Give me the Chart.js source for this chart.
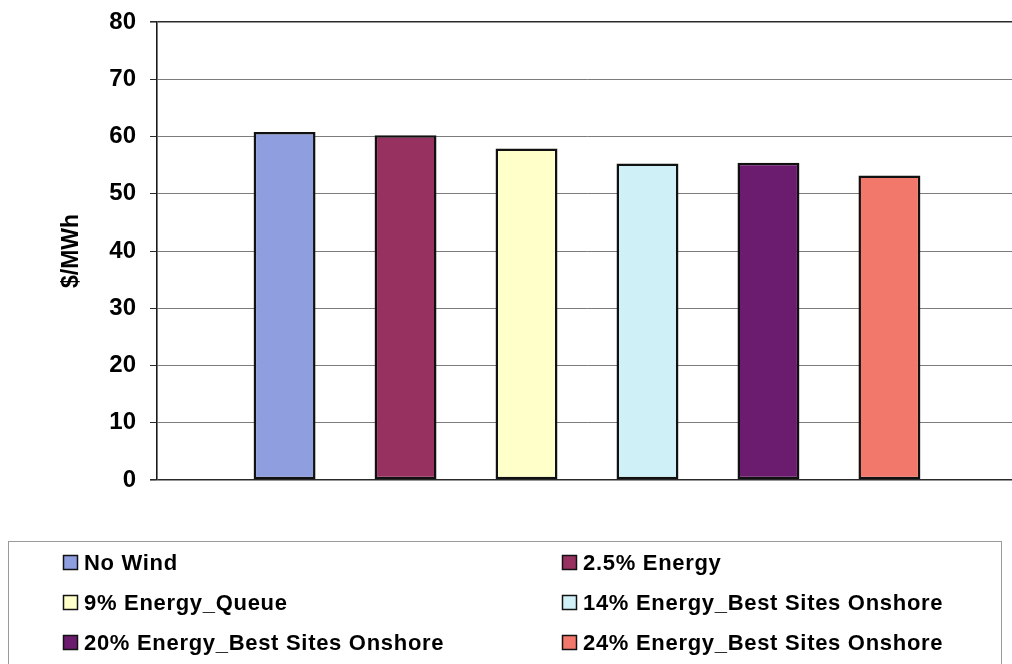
<!DOCTYPE html>
<html>
<head>
<meta charset="utf-8">
<script src="https://cdn.jsdelivr.net/npm/chart.js@4/dist/chart.umd.min.js"></script>
<style>
  html, body { margin: 0; padding: 0; background: #fff; overflow: hidden; }
  #wrap { width: 1012px; height: 664px; overflow: hidden; }
  canvas { display: block; }
</style>
</head>
<body>
<div id="wrap"><canvas id="chart" width="1020" height="664"></canvas></div>
<script>
// Scenario names, average price per scenario ($/MWh) and fill colours
const categories = [''];
const seriesNames = [
  'No Wind',
  '2.5% Energy',
  '9% Energy_Queue',
  '14% Energy_Best Sites Onshore',
  '20% Energy_Best Sites Onshore',
  '24% Energy_Best Sites Onshore'
];
const seriesValues = [60.8, 60.2, 57.9, 55.3, 55.4, 53.2];
const seriesColors = ['#8E9EDF', '#973260', '#FFFFCA', '#CFF0F6', '#6C1C6E', '#F3786C'];
const yTicks = [0, 10, 20, 30, 40, 50, 60, 70, 80];

const FONT = "'Liberation Sans', Arial, sans-serif";

const datasets = seriesNames.map((name, i) => ({
  label: name,
  data: [seriesValues[i]],
  backgroundColor: seriesColors[i],
  borderColor: '#111',
  borderWidth: 2.5,
  borderSkipped: false,
  categoryPercentage: 0.844,
  barPercentage: 0.512
}));

// Boxed two-column legend under the plot
const boxedLegend = {
  id: 'boxedLegend',
  afterDraw(chart) {
    const ctx = chart.ctx;
    ctx.save();
    ctx.strokeStyle = '#9a9a9a';
    ctx.lineWidth = 1;
    ctx.strokeRect(8.5, 541.5, 993, 140);
    const colX = [63, 562];
    const rowY = [563, 603, 643];
    ctx.font = 'bold 22px ' + FONT;
    ctx.letterSpacing = '0.7px';
    ctx.textBaseline = 'middle';
    chart.data.datasets.forEach((ds, i) => {
      const x = colX[i % 2];
      const y = rowY[Math.floor(i / 2)];
      ctx.fillStyle = ds.backgroundColor;
      ctx.fillRect(x, y - 8, 15, 15);
      ctx.strokeStyle = '#111';
      ctx.lineWidth = 1.5;
      ctx.strokeRect(x + 0.5, y - 7.5, 14, 14);
      ctx.fillStyle = '#000';
      ctx.fillText(ds.label, x + 21, y + 1);
    });
    ctx.restore();
  }
};

new Chart(document.getElementById('chart'), {
  type: 'bar',
  data: { labels: categories, datasets },
  options: {
    responsive: false,
    animation: false,
    layout: { padding: { top: 22, bottom: 184, left: 0, right: 3 } },
    plugins: {
      legend: { display: false },
      tooltip: { enabled: false }
    },
    scales: {
      x: { display: false },
      y: {
        min: 0,
        max: 80,
        afterBuildTicks(scale) { scale.ticks = yTicks.map(v => ({ value: v })); },
        afterFit(scale) {
          scale.width = 157;
          scale.paddingTop = 0;
          scale.paddingBottom = 0;
        },
        ticks: {
          color: '#000',
          padding: 14,
          font: { family: FONT, size: 24, weight: 'bold' }
        },
        grid: {
          color: ctx => (ctx.tick && (ctx.tick.value === 0 || ctx.tick.value === 80)) ? '#2a2a2a' : '#7c7c7c',
          lineWidth: ctx => (ctx.tick && (ctx.tick.value === 0 || ctx.tick.value === 80)) ? 1.6 : 1,
          tickLength: 7,
          tickColor: '#2a2a2a'
        },
        border: { display: true, color: '#1a1a1a', width: 1.6 },
        title: {
          display: true,
          text: '$/MWh',
          color: '#000',
          font: { family: FONT, size: 23, weight: 'bold' },
          padding: { top: 58, bottom: 0 }
        }
      }
    }
  },
  plugins: [boxedLegend]
});
</script>
</body>
</html>
